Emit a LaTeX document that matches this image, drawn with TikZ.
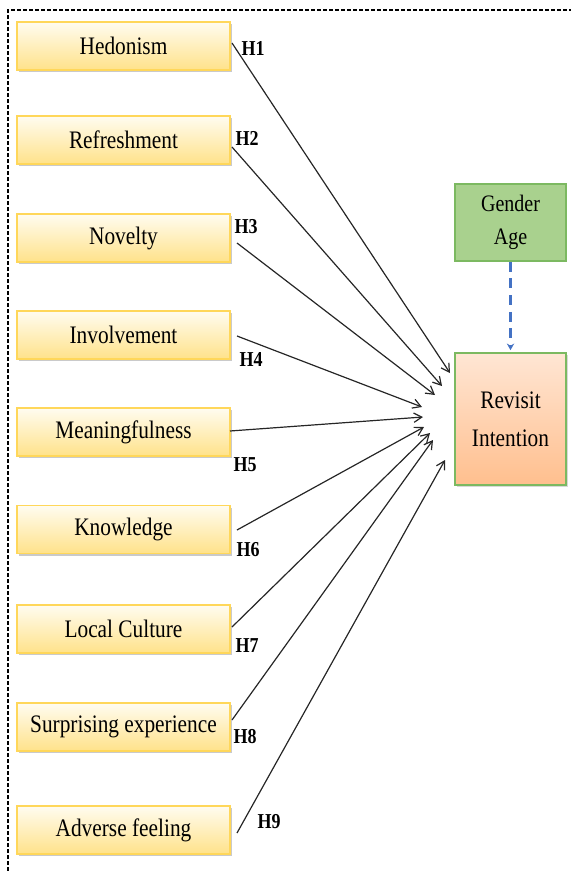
\documentclass[tikz,border=0pt]{standalone}
\usepackage{fontspec}
\setmainfont{Liberation Serif}
\usepackage{graphicx}
\usetikzlibrary{arrows.meta,shadows}
\definecolor{ybord}{HTML}{FFD75A}
\definecolor{ytop}{HTML}{FFFCF0}
\definecolor{ybot}{HTML}{FFE28A}
\definecolor{gfill}{HTML}{A9D18E}
\definecolor{gbord}{HTML}{7CB961}
\definecolor{otop}{HTML}{FFE6D4}
\definecolor{obot}{HTML}{FFBF8E}
\definecolor{blu}{HTML}{4472C4}
\newcommand\vs[1]{\scalebox{1}[1.18]{#1}}
\tikzset{
  factor/.style={draw=ybord, line width=1pt, top color=ytop, bottom color=ybot,
    minimum width=159.75pt, minimum height=36pt, inner sep=0pt,
    font=\fontsize{16}{19}\selectfont,
    drop shadow={shadow xshift=1.5pt, shadow yshift=-1.5pt, fill=black!35, opacity=0.6}},
  ctrlbox/.style={draw=gbord, line width=1.2pt, fill=gfill, minimum width=83.25pt,
    minimum height=57.75pt, inner sep=0pt, align=center,
    font=\fontsize{15}{24.5}\selectfont},
  outbox/.style={draw=gbord, line width=1.2pt, top color=otop, bottom color=obot,
    minimum width=83.25pt, minimum height=99pt, inner sep=0pt, align=center,
    font=\fontsize{16}{28.5}\selectfont,
    drop shadow={shadow xshift=1.5pt, shadow yshift=-1.5pt, fill=black!30, opacity=0.5}},
  hyp/.style={font=\fontsize{13.5}{15}\selectfont\bfseries, inner sep=0pt},
  path/.style={draw=black!85, line width=0.9pt, -{Straight Barb[length=6pt,width=7pt]}},
  modpath/.style={draw=blu, line width=2pt, dash pattern=on 7.5pt off 5pt,
    -{Stealth[length=5pt,width=5.5pt]}},
  frameline/.style={draw=black, line width=0.8pt, dash pattern=on 3pt off 1.5pt}
}
\begin{document}
\begin{tikzpicture}[x=0.75pt,y=-0.75pt]
\useasboundingbox (0,0) rectangle (571,871);
\draw[frameline] (8,871) -- (8,10) -- (571,10);
% factor boxes
\node[factor] (f1) at (123.5,46) {\vs{Hedonism}};
\node[factor] (f2) at (123.5,140) {\vs{Refreshment}};
\node[factor] (f3) at (123.5,238) {\vs{Novelty}};
\node[factor] (f4) at (123.5,335) {\vs{Involvement}};
\node[factor] (f5) at (123.5,432) {\vs{Meaningfulness}};
\node[factor] (f6) at (123.5,529.5) {\vs{Knowledge}};
\node[factor] (f7) at (123.5,629) {\vs{Local Culture}};
\node[factor] (f8) at (123.5,727) {\vs{Surprising experience}};
\node[factor] (f9) at (123.5,830) {\vs{Adverse feeling}};
% control and outcome
\node[ctrlbox] (ga) at (510.5,222.5) {\vs{Gender}\\\vs{Age}};
\node[outbox] (ri) at (510.5,419) {\vs{Revisit}\\\vs{Intention}};
% start and end coordinates
\coordinate (s1) at (232,43);  \coordinate (e1) at (450,373);
\coordinate (s2) at (232,147); \coordinate (e2) at (442,386);
\coordinate (s3) at (237,243); \coordinate (e3) at (435,395);
\coordinate (s4) at (237,336); \coordinate (e4) at (422,407);
\coordinate (s5) at (230,431); \coordinate (e5) at (423,417);
\coordinate (s6) at (237,530); \coordinate (e6) at (424,427);
\coordinate (s7) at (232,627); \coordinate (e7) at (430,433);
\coordinate (s8) at (232,720); \coordinate (e8) at (433,440);
\coordinate (s9) at (237,833); \coordinate (e9) at (445,460);
\foreach \i in {1,...,9} { \draw[path] (s\i) -- (e\i); }
% labels
\node[hyp] (h1) at (253,48) {\vs{H1}};
\node[hyp] (h2) at (247,138) {\vs{H2}};
\node[hyp] (h3) at (246,227) {\vs{H3}};
\node[hyp] (h4) at (251,360) {\vs{H4}};
\node[hyp] (h5) at (245,465) {\vs{H5}};
\node[hyp] (h6) at (248,550) {\vs{H6}};
\node[hyp] (h7) at (247,646) {\vs{H7}};
\node[hyp] (h8) at (245,737) {\vs{H8}};
\node[hyp] (h9) at (269,822) {\vs{H9}};
% moderator arrow
\draw[modpath] (ga.south) -- ([yshift=1.5pt]ri.north);
\end{tikzpicture}
\end{document}
